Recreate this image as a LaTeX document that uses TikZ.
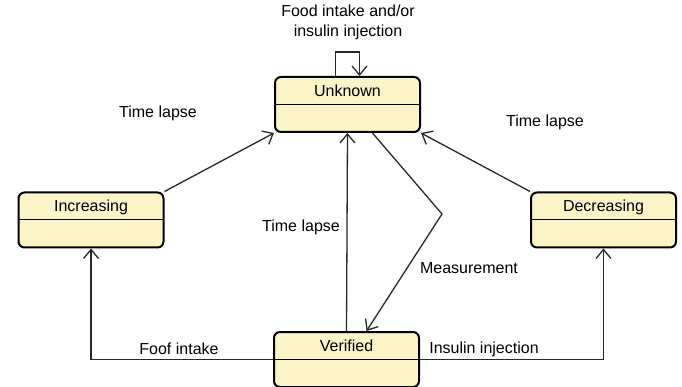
\documentclass[tikz,border=0pt]{standalone}
\usepackage{fontspec}
\setmainfont{Liberation Sans}
\usetikzlibrary{arrows.meta}

\definecolor{statefill}{RGB}{251,244,200}
\definecolor{lineclr}{RGB}{40,40,40}

\begin{document}
\begin{tikzpicture}[
    x=1pt, y=-1pt,
    every node/.style={font=\fontsize{16}{20}\selectfont},
    state/.style={draw=black, line width=2pt, rounded corners=6pt, fill=statefill,
        minimum width=145pt, minimum height=55pt, inner sep=3pt,
        text height=12pt, text depth=28.5pt,
        path picture={\draw[line width=1pt] (path picture bounding box.west) -- (path picture bounding box.east);}},
    lbl/.style={inner sep=0pt},
    arrow/.style={-{Straight Barb[length=9pt,width=15pt]}, line width=1.3pt, draw=lineclr}
]
\useasboundingbox (0,0) rectangle (682,387);

\node[state] (unknown) at (347.5,104.5) {Unknown};
\node[state] (incr) at (91,220) {Increasing};
\node[state] (decr) at (603.5,220) {Decreasing};
\node[state] (verified) at (346.5,359.5) {Verified};
\coordinate (bend) at (442,214);

\node[lbl, align=center] (loopl) at (348,22) {Food intake and/or\\insulin injection};
\node[lbl] (lapsea) at (158,113) {Time lapse};
\node[lbl] (lapseb) at (545,122) {Time lapse};
\node[lbl] (lapsec) at (301,227) {Time lapse};
\node[lbl] (meas) at (469,268) {Measurement};
\node[lbl] (food) at (179,349) {Foof intake};
\node[lbl] (insul) at (484,349) {Insulin injection};

\draw[arrow] ([xshift=-12pt]unknown.north) -- ++(0,-24) -| ([xshift=12pt]unknown.north);
\draw[arrow] (incr.north east) -- (unknown.south west);
\draw[arrow] (decr.north west) -- (unknown.south east);
\draw[arrow] (verified.north) -- (unknown.south);
\draw[arrow] ([xshift=25pt]unknown.south) -- (bend) -- ([xshift=20pt]verified.north);
\draw[arrow] (verified.west) -| (incr.south);
\draw[arrow] (verified.east) -| (decr.south);
\end{tikzpicture}
\end{document}
